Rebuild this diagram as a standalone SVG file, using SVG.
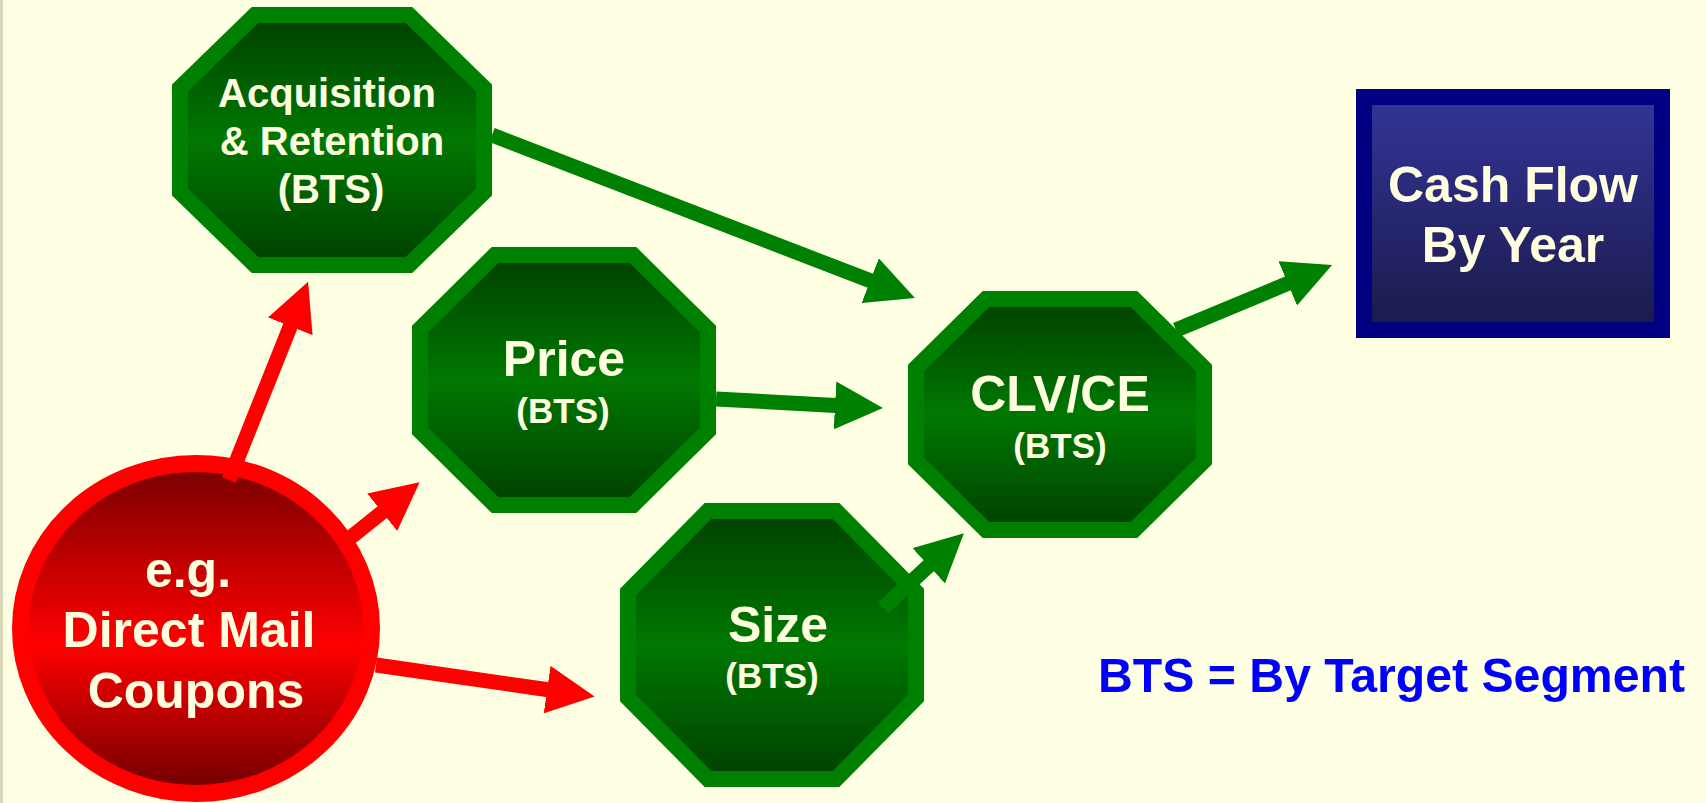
<svg xmlns="http://www.w3.org/2000/svg" width="1706" height="803" viewBox="0 0 1706 803">
<style>
.lbl{font-family:"Liberation Sans",Arial,sans-serif;font-weight:bold;fill:#FFFFE0;text-anchor:middle}
.big{font-size:50px}
.mid{font-size:40px}
.sm{font-size:35px}
.oct{stroke:#008000;stroke-width:16;stroke-linejoin:miter;fill:url(#gGreen)}
.gline{stroke:#008000;stroke-width:15;fill:none;marker-end:url(#ahG)}
.rline{stroke:#FF0000;stroke-width:15;fill:none;marker-end:url(#ahR)}
</style>
<defs>
<linearGradient id="gGreen" x1="0" y1="0" x2="0" y2="1">
<stop offset="0" stop-color="#004000"/>
<stop offset="0.5" stop-color="#007800"/>
<stop offset="1" stop-color="#004000"/>
</linearGradient>
<linearGradient id="gRed" x1="0" y1="0" x2="0" y2="1">
<stop offset="0" stop-color="#760000"/>
<stop offset="0.55" stop-color="#FF0000"/>
<stop offset="1" stop-color="#6E0000"/>
</linearGradient>
<linearGradient id="gBlue" x1="0" y1="0" x2="0" y2="1">
<stop offset="0" stop-color="#343499"/>
<stop offset="1" stop-color="#1A1A4A"/>
</linearGradient>
<marker id="ahG" markerUnits="userSpaceOnUse" markerWidth="48" markerHeight="48" viewBox="0 0 48 48" refX="10" refY="24" orient="auto">
<path d="M0,0 L48,24 L0,48 z" fill="#008000"/>
</marker>
<marker id="ahR" markerUnits="userSpaceOnUse" markerWidth="48" markerHeight="48" viewBox="0 0 48 48" refX="10" refY="24" orient="auto">
<path d="M0,0 L48,24 L0,48 z" fill="#FF0000"/>
</marker>
</defs>
<rect x="0" y="0" width="1706" height="803" fill="#FFFFE3"/>
<rect x="0" y="0" width="3" height="803" fill="#D8D8B8"/>

<g id="acquisition">
<polygon class="oct" points="255,15 409,15 484,88 484,192 409,265 255,265 180,192 180,88"/>
<text class="lbl mid" x="327" y="107">Acquisition</text>
<text class="lbl mid" x="332" y="155">&amp; Retention</text>
<text class="lbl mid" x="331" y="203">(BTS)</text>
</g>

<g id="price">
<polygon class="oct" points="495,255 633,255 708,329 708,431 633,505 495,505 420,431 420,329"/>
<text class="lbl big" x="564" y="376">Price</text>
<text class="lbl sm" x="563" y="423">(BTS)</text>
</g>

<g id="size">
<polygon class="oct" points="708,511 836,511 916,592 916,698 836,779 708,779 628,698 628,592"/>
<text class="lbl big" x="778" y="642">Size</text>
<text class="lbl sm" x="772" y="688">(BTS)</text>
</g>

<g id="clv">
<polygon class="oct" points="986,299 1134,299 1204,368 1204,461 1134,530 986,530 916,461 916,368"/>
<text class="lbl big" x="1060" y="411">CLV/CE</text>
<text class="lbl sm" x="1060" y="458">(BTS)</text>
</g>

<g id="cashflow">
<rect x="1364" y="97" width="298" height="233" fill="url(#gBlue)" stroke="#000080" stroke-width="16"/>
<text class="lbl big" x="1513" y="202">Cash Flow</text>
<text class="lbl big" x="1513" y="262">By Year</text>
</g>

<g id="coupons">
<ellipse cx="196" cy="628.5" rx="175.5" ry="165" fill="url(#gRed)" stroke="#FF0000" stroke-width="17"/>
<text class="lbl big" x="188" y="587">e.g.</text>
<text class="lbl big" x="189" y="647">Direct Mail</text>
<text class="lbl big" x="196" y="708">Coupons</text>
</g>

<g id="connectors">
<line class="gline" x1="492" y1="135" x2="879.5" y2="284.3"/>
<line class="gline" x1="716" y1="399" x2="845" y2="406"/>
<line class="gline" x1="883" y1="608" x2="936" y2="559"/>
<line class="gline" x1="1176" y1="330" x2="1297" y2="279.6"/>
<line class="rline" x1="229" y1="480" x2="294" y2="317"/>
<line class="rline" x1="345" y1="542" x2="390" y2="506"/>
<line class="rline" x1="376" y1="665" x2="557" y2="691"/>
</g>

<g id="legend">
<text x="1098" y="692" font-family="'Liberation Sans',Arial,sans-serif" font-weight="bold" font-size="48" fill="#0000FF" textLength="587" lengthAdjust="spacingAndGlyphs">BTS = By Target Segment</text>
</g>
</svg>
